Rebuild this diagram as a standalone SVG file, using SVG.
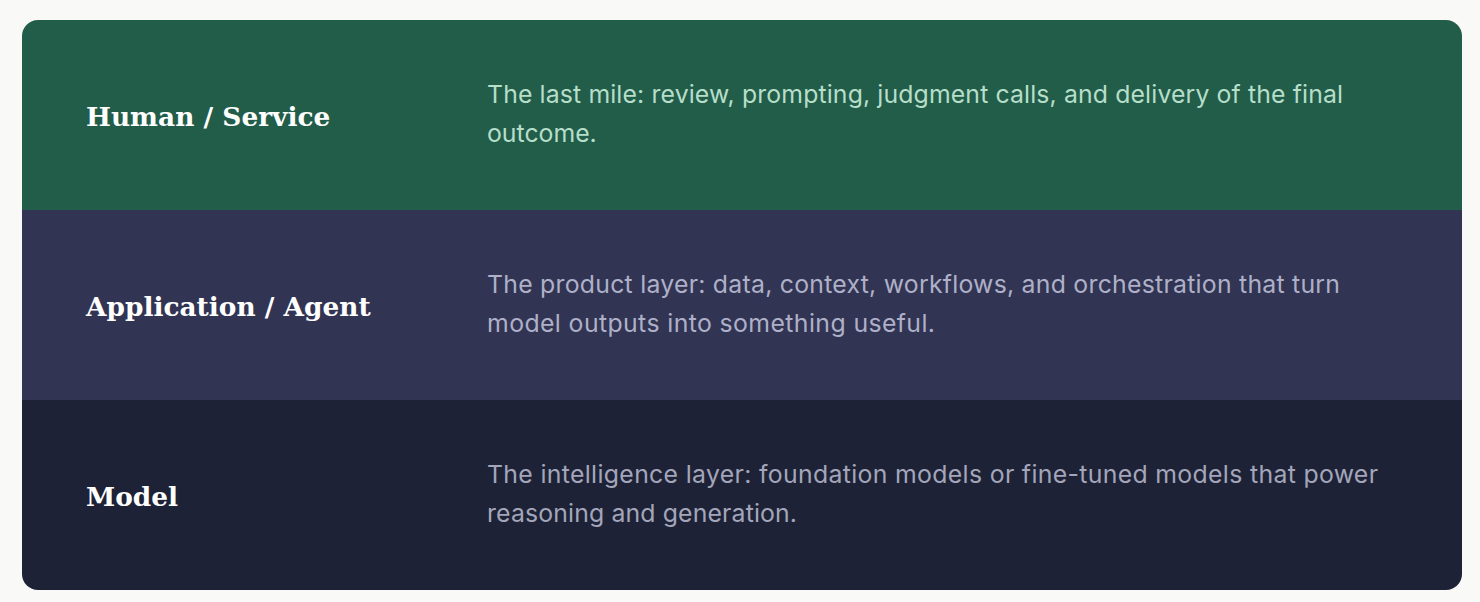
<svg xmlns="http://www.w3.org/2000/svg" width="1480" height="602" viewBox="0 0 1480 602">
<style>
.title{font-family:"DejaVu Serif","Liberation Serif",serif;font-weight:bold;font-size:26.4px;fill:#ffffff}
.desc{font-family:"Inter","Noto Sans",sans-serif;font-size:24.8px}
.g{fill:#B6DEC9}
.p{fill:#AEB0C8}
.d{fill:#A3A6BA}
</style>
<defs>
<clipPath id="card"><rect x="22" y="20" width="1440" height="570" rx="16" ry="16"/></clipPath>
</defs>
<rect width="1480" height="602" fill="#F9F9F8"/>
<g clip-path="url(#card)">
<g id="human-service">
<rect x="22" y="20" width="1440" height="190" fill="#225D4A"/>
<text class="title" x="86" y="126">Human / Service</text>
<text class="desc g" x="487" y="103" textLength="856" lengthAdjust="spacing">The last mile: review, prompting, judgment calls, and delivery of the final</text>
<text class="desc g" x="487" y="142">outcome.</text>
</g>
<g id="application-agent">
<rect x="22" y="210" width="1440" height="190" fill="#323453"/>
<text class="title" x="86" y="316">Application / Agent</text>
<text class="desc p" x="487" y="293" textLength="853" lengthAdjust="spacing">The product layer: data, context, workflows, and orchestration that turn</text>
<text class="desc p" x="487" y="332" textLength="448" lengthAdjust="spacing">model outputs into something useful.</text>
</g>
<g id="model">
<rect x="22" y="400" width="1440" height="190" fill="#1E2236"/>
<text class="title" x="86" y="506">Model</text>
<text class="desc d" x="487" y="483" textLength="891" lengthAdjust="spacing">The intelligence layer: foundation models or fine-tuned models that power</text>
<text class="desc d" x="487" y="522" textLength="310" lengthAdjust="spacing">reasoning and generation.</text>
</g>
</g>
<g id="connectors"/>
</svg>
